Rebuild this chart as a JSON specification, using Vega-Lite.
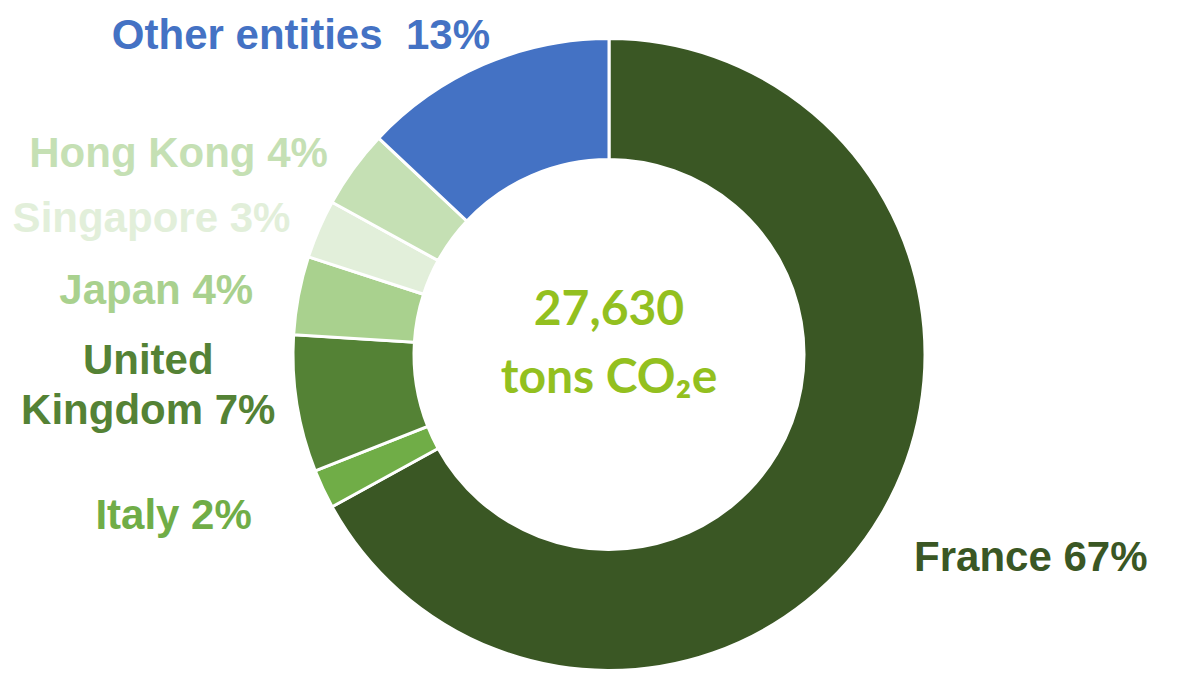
{
  "$schema": "https://vega.github.io/schema/vega-lite/v6.json",
  "width": 1146,
  "height": 637,
  "autosize": {"type": "none"},
  "padding": {"left": 36, "top": 36, "right": 0, "bottom": 0},
  "background": "white",
  "config": {"view": {"stroke": null}},
  "data": {
    "values": [
      {"entity": "France", "share": 67, "order": 1, "label": "France 67%", "side": "left"},
      {"entity": "Italy", "share": 2, "order": 2, "label": "Italy 2%", "side": "low"},
      {"entity": "United Kingdom", "share": 7, "order": 3, "label": "United\nKingdom 7%", "side": "center"},
      {"entity": "Japan", "share": 4, "order": 4, "label": "Japan 4%", "side": "mid"},
      {"entity": "Singapore", "share": 3, "order": 5, "label": "Singapore 3%", "side": "right"},
      {"entity": "Hong Kong", "share": 4, "order": 6, "label": "Hong Kong 4%", "side": "right"},
      {"entity": "Other entities", "share": 13, "order": 7, "label": "Other entities\u00a0 13%", "side": "top"}
    ]
  },
  "encoding": {
    "theta": {"field": "share", "type": "quantitative", "stack": true},
    "order": {"field": "order", "type": "quantitative"},
    "color": {
      "field": "entity",
      "type": "nominal",
      "legend": null,
      "scale": {
        "domain": ["France", "Italy", "United Kingdom", "Japan", "Singapore", "Hong Kong", "Other entities"],
        "range": ["#3A5724", "#70AD47", "#548235", "#A9D18E", "#E2EFDA", "#C5E0B4", "#4472C4"]
      }
    }
  },
  "layer": [
    {
      "mark": {"type": "arc", "outerRadius": 316, "innerRadius": 195, "stroke": "white", "strokeWidth": 3}
    },
    {
      "mark": {"type": "text", "radius": 345, "align": "right", "baseline": "middle", "font": "Liberation Sans", "fontWeight": "bold", "fontSize": 42, "dx": -2, "dy": 2},
      "encoding": {
        "text": {"condition": {"test": "datum.side === 'right'", "field": "label"}, "value": ""}
      }
    },
    {
      "mark": {"type": "text", "radius": 345, "align": "right", "baseline": "middle", "font": "Liberation Sans", "fontWeight": "bold", "fontSize": 42, "dx": 18, "dy": -2},
      "encoding": {
        "text": {"condition": {"test": "datum.side === 'top'", "field": "label"}, "value": ""}
      }
    },
    {
      "mark": {"type": "text", "radius": 345, "align": "right", "baseline": "middle", "font": "Liberation Sans", "fontWeight": "bold", "fontSize": 42, "dx": -17, "dy": 1},
      "encoding": {
        "text": {"condition": {"test": "datum.side === 'mid'", "field": "label"}, "value": ""}
      }
    },
    {
      "mark": {"type": "text", "radius": 345, "align": "right", "baseline": "middle", "font": "Liberation Sans", "fontWeight": "bold", "fontSize": 42, "dx": -45, "dy": 15},
      "encoding": {
        "text": {"condition": {"test": "datum.side === 'low'", "field": "label"}, "value": ""}
      }
    },
    {
      "mark": {"type": "text", "radius": 330, "align": "left", "baseline": "middle", "font": "Liberation Sans", "fontWeight": "bold", "fontSize": 42, "dx": 21, "dy": 36},
      "encoding": {
        "text": {"condition": {"test": "datum.side === 'left'", "field": "label"}, "value": ""}
      }
    },
    {
      "mark": {"type": "text", "radius": 345, "align": "center", "baseline": "middle", "font": "Liberation Sans", "fontWeight": "bold", "fontSize": 42, "dx": -120, "dy": -47, "lineBreak": "\n", "lineHeight": 50},
      "encoding": {
        "text": {"condition": {"test": "datum.side === 'center'", "field": "label"}, "value": ""}
      }
    },
    {
      "data": {"values": [{"line": "27,630\ntons CO₂e"}]},
      "mark": {"type": "text", "x": {"expr": "width/2"}, "y": {"expr": "height/2"}, "align": "center", "baseline": "middle", "font": "Lato", "fontWeight": "bold", "fontSize": 48, "color": "#93C01F", "lineBreak": "\n", "lineHeight": 68, "dy": -44},
      "encoding": {
        "text": {"field": "line", "type": "nominal"},
        "theta": null,
        "order": null,
        "color": null
      }
    }
  ]
}
